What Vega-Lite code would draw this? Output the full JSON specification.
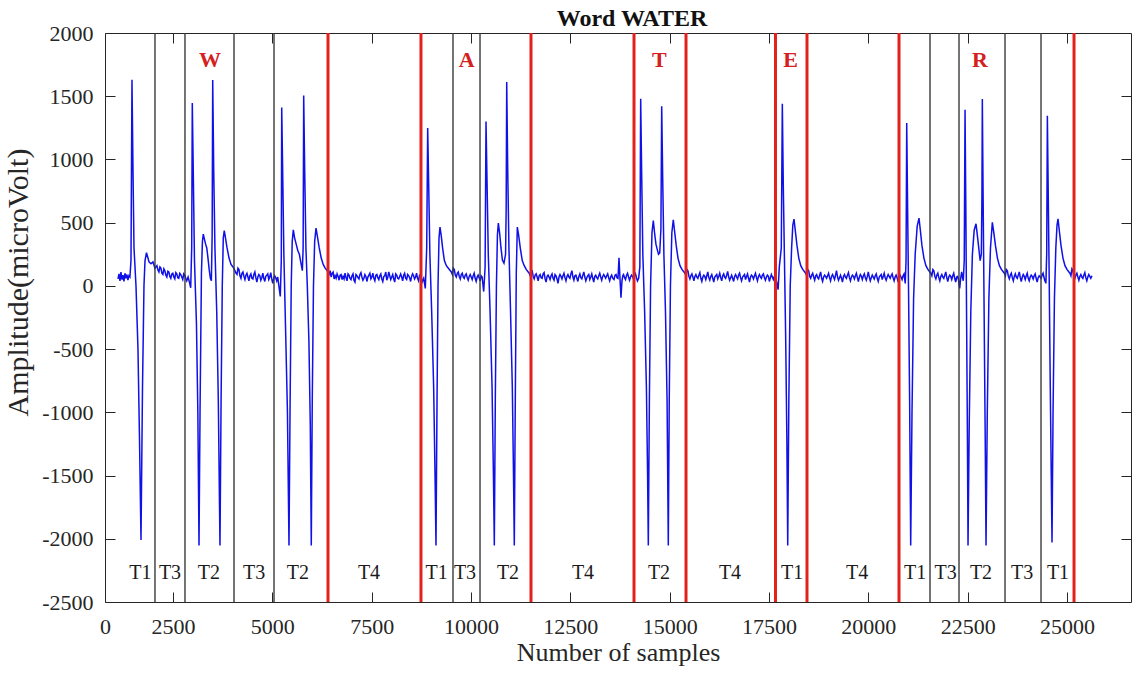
{
"$schema": "https://vega.github.io/schema/vega-lite/v6.json",
"autosize": {"type": "none"},
"padding": {"left": 105, "top": 33, "right": 1, "bottom": 71},
"width": 1026,
"height": 569,
"background": "white",
"config": {"view": {"stroke": null}},
"title": {"text": "Word WATER", "font": "Liberation Serif", "fontSize": 24, "fontWeight": "bold", "color": "#111111", "offset": 10, "baseline": "alphabetic", "dx": 14, "dy": 38},
"datasets": {
"signal": [
{"sample":1115,"uV":55},{"sample":1140,"uV":95},{"sample":1165,"uV":40},{"sample":1190,"uV":110},{"sample":1215,"uV":50},{"sample":1240,"uV":85},{"sample":1265,"uV":35},{"sample":1290,"uV":100},{"sample":1315,"uV":60},{"sample":1340,"uV":90},{"sample":1365,"uV":45},{"sample":1390,"uV":80},{"sample":1415,"uV":70},{"sample":1442,"uV":200},{"sample":1467,"uV":1630},{"sample":1493,"uV":900},{"sample":1518,"uV":300},{"sample":1568,"uV":0},{"sample":1618,"uV":-500},{"sample":1656,"uV":-1200},{"sample":1694,"uV":-2010},{"sample":1732,"uV":-800},{"sample":1769,"uV":0},{"sample":1795,"uV":200},{"sample":1832,"uV":262},{"sample":1870,"uV":220},{"sample":1895,"uV":190},{"sample":1945,"uV":175},{"sample":1995,"uV":190},{"sample":2045,"uV":140},
{"sample":2070,"uV":150},{"sample":2095,"uV":160},{"sample":2120,"uV":125},{"sample":2145,"uV":110},{"sample":2170,"uV":150},{"sample":2195,"uV":140},{"sample":2220,"uV":100},{"sample":2245,"uV":90},{"sample":2270,"uV":135},{"sample":2295,"uV":120},{"sample":2320,"uV":85},{"sample":2345,"uV":70},{"sample":2370,"uV":115},{"sample":2395,"uV":110},{"sample":2420,"uV":75},{"sample":2445,"uV":60},{"sample":2470,"uV":95},{"sample":2495,"uV":100},{"sample":2520,"uV":70},{"sample":2545,"uV":55},{"sample":2570,"uV":105},{"sample":2595,"uV":95},{"sample":2620,"uV":65},{"sample":2645,"uV":60},{"sample":2670,"uV":100},{"sample":2695,"uV":90},{"sample":2720,"uV":70},{"sample":2745,"uV":50},{"sample":2770,"uV":95},{"sample":2795,"uV":85},{"sample":2820,"uV":60},{"sample":2845,"uV":40},{"sample":2880,"uV":70},{"sample":2920,"uV":20},{"sample":2945,"uV":-15},{"sample":2970,"uV":300},
{"sample":2985,"uV":1446},{"sample":3010,"uV":900},{"sample":3040,"uV":200},{"sample":3090,"uV":-300},{"sample":3125,"uV":-1000},{"sample":3154,"uV":-2054},{"sample":3180,"uV":-1000},{"sample":3215,"uV":100},{"sample":3240,"uV":350},{"sample":3262,"uV":410},{"sample":3290,"uV":370},{"sample":3320,"uV":330},{"sample":3350,"uV":300},{"sample":3380,"uV":220},{"sample":3410,"uV":130},{"sample":3440,"uV":60},{"sample":3465,"uV":40},{"sample":3485,"uV":400},{"sample":3499,"uV":1628},{"sample":3525,"uV":900},{"sample":3555,"uV":300},{"sample":3600,"uV":-200},{"sample":3640,"uV":-900},{"sample":3682,"uV":-2054},{"sample":3710,"uV":-900},{"sample":3740,"uV":0},{"sample":3765,"uV":380},{"sample":3790,"uV":438},{"sample":3820,"uV":380},{"sample":3860,"uV":300},{"sample":3910,"uV":220},{"sample":3960,"uV":170},{"sample":4010,"uV":150},{"sample":4060,"uV":120},
{"sample":4085,"uV":100},{"sample":4110,"uV":90},{"sample":4135,"uV":140},{"sample":4160,"uV":130},{"sample":4185,"uV":80},{"sample":4210,"uV":60},{"sample":4235,"uV":100},{"sample":4260,"uV":110},{"sample":4285,"uV":75},{"sample":4310,"uV":50},{"sample":4335,"uV":85},{"sample":4360,"uV":100},{"sample":4385,"uV":70},{"sample":4410,"uV":40},{"sample":4435,"uV":80},{"sample":4460,"uV":95},{"sample":4485,"uV":60},{"sample":4510,"uV":55},{"sample":4535,"uV":90},{"sample":4560,"uV":110},{"sample":4585,"uV":65},{"sample":4610,"uV":30},{"sample":4635,"uV":70},{"sample":4660,"uV":90},{"sample":4685,"uV":80},{"sample":4710,"uV":45},{"sample":4735,"uV":65},{"sample":4760,"uV":100},{"sample":4785,"uV":60},{"sample":4810,"uV":35},{"sample":4835,"uV":75},{"sample":4860,"uV":85},{"sample":4885,"uV":95},{"sample":4910,"uV":50},{"sample":4935,"uV":70},{"sample":4960,"uV":105},{"sample":4985,"uV":55},{"sample":5010,"uV":20},{"sample":5035,"uV":60},{"sample":5060,"uV":80},{"sample":5085,"uV":65},{"sample":5110,"uV":40},{"sample":5135,"uV":70},{"sample":5160,"uV":10},{"sample":5200,"uV":-84},{"sample":5225,"uV":200},
{"sample":5236,"uV":1411},{"sample":5260,"uV":900},{"sample":5290,"uV":250},{"sample":5330,"uV":-300},{"sample":5380,"uV":-1000},{"sample":5419,"uV":-2054},{"sample":5445,"uV":-1000},{"sample":5475,"uV":0},{"sample":5500,"uV":350},{"sample":5528,"uV":444},{"sample":5560,"uV":380},{"sample":5600,"uV":330},{"sample":5640,"uV":280},{"sample":5680,"uV":250},{"sample":5720,"uV":180},{"sample":5755,"uV":120},{"sample":5775,"uV":300},{"sample":5789,"uV":1506},{"sample":5815,"uV":900},{"sample":5845,"uV":300},{"sample":5880,"uV":0},{"sample":5920,"uV":-430},{"sample":5955,"uV":-1100},{"sample":5980,"uV":-2054},{"sample":6005,"uV":-900},{"sample":6035,"uV":0},{"sample":6065,"uV":350},{"sample":6099,"uV":457},{"sample":6135,"uV":390},{"sample":6180,"uV":300},{"sample":6230,"uV":220},{"sample":6280,"uV":170},{"sample":6330,"uV":140},{"sample":6380,"uV":120},
{"sample":6405,"uV":115},{"sample":6430,"uV":95},{"sample":6455,"uV":120},{"sample":6480,"uV":70},{"sample":6505,"uV":100},{"sample":6530,"uV":110},{"sample":6555,"uV":55},{"sample":6580,"uV":80},{"sample":6605,"uV":60},{"sample":6630,"uV":95},{"sample":6655,"uV":75},{"sample":6680,"uV":45},{"sample":6705,"uV":85},{"sample":6730,"uV":90},{"sample":6755,"uV":50},{"sample":6780,"uV":75},{"sample":6805,"uV":55},{"sample":6830,"uV":100},{"sample":6855,"uV":65},{"sample":6880,"uV":40},{"sample":6905,"uV":95},{"sample":6930,"uV":85},{"sample":6955,"uV":60},{"sample":6980,"uV":50},{"sample":7005,"uV":80},{"sample":7030,"uV":95},{"sample":7055,"uV":45},{"sample":7080,"uV":30},{"sample":7105,"uV":90},{"sample":7130,"uV":80},{"sample":7155,"uV":65},{"sample":7180,"uV":55},{"sample":7205,"uV":90},{"sample":7230,"uV":105},{"sample":7255,"uV":70},{"sample":7280,"uV":45},{"sample":7305,"uV":60},{"sample":7330,"uV":90},{"sample":7355,"uV":75},{"sample":7380,"uV":35},{"sample":7405,"uV":70},{"sample":7430,"uV":85},{"sample":7455,"uV":100},{"sample":7480,"uV":55},{"sample":7505,"uV":70},{"sample":7530,"uV":100},{"sample":7555,"uV":60},{"sample":7580,"uV":40},{"sample":7605,"uV":85},{"sample":7630,"uV":90},{"sample":7655,"uV":65},{"sample":7680,"uV":50},{"sample":7705,"uV":80},{"sample":7730,"uV":95},{"sample":7755,"uV":55},{"sample":7780,"uV":35},{"sample":7805,"uV":75},{"sample":7830,"uV":80},{"sample":7855,"uV":110},{"sample":7880,"uV":45},{"sample":7905,"uV":65},{"sample":7930,"uV":110},{"sample":7955,"uV":80},{"sample":7980,"uV":50},{"sample":8005,"uV":70},{"sample":8030,"uV":90},{"sample":8055,"uV":55},{"sample":8080,"uV":30},{"sample":8105,"uV":95},{"sample":8130,"uV":85},{"sample":8155,"uV":60},{"sample":8180,"uV":55},{"sample":8205,"uV":75},{"sample":8230,"uV":95},{"sample":8255,"uV":70},{"sample":8280,"uV":40},{"sample":8305,"uV":85},{"sample":8330,"uV":100},{"sample":8355,"uV":60},{"sample":8380,"uV":50},{"sample":8405,"uV":90},{"sample":8430,"uV":80},{"sample":8455,"uV":65},{"sample":8480,"uV":35},{"sample":8505,"uV":75},{"sample":8530,"uV":95},{"sample":8555,"uV":80},{"sample":8580,"uV":55},{"sample":8605,"uV":70},{"sample":8630,"uV":100},{"sample":8655,"uV":60},{"sample":8680,"uV":40},{"sample":8705,"uV":85},{"sample":8730,"uV":90},{"sample":8770,"uV":30},{"sample":8810,"uV":60},{"sample":8850,"uV":-20},{"sample":8885,"uV":300},
{"sample":8910,"uV":1248},{"sample":8935,"uV":800},{"sample":8965,"uV":250},{"sample":9010,"uV":-200},{"sample":9060,"uV":-800},{"sample":9095,"uV":-1500},{"sample":9119,"uV":-2054},{"sample":9145,"uV":-900},{"sample":9170,"uV":0},{"sample":9195,"uV":380},{"sample":9220,"uV":465},{"sample":9250,"uV":400},{"sample":9285,"uV":300},{"sample":9330,"uV":200},{"sample":9380,"uV":160},{"sample":9430,"uV":140},{"sample":9480,"uV":120},
{"sample":9505,"uV":110},{"sample":9530,"uV":90},{"sample":9555,"uV":140},{"sample":9580,"uV":130},{"sample":9605,"uV":85},{"sample":9630,"uV":70},{"sample":9655,"uV":100},{"sample":9680,"uV":110},{"sample":9705,"uV":75},{"sample":9730,"uV":55},{"sample":9755,"uV":90},{"sample":9780,"uV":100},{"sample":9805,"uV":70},{"sample":9830,"uV":60},{"sample":9855,"uV":85},{"sample":9880,"uV":95},{"sample":9905,"uV":65},{"sample":9930,"uV":45},{"sample":9955,"uV":75},{"sample":9980,"uV":90},{"sample":10005,"uV":70},{"sample":10030,"uV":50},{"sample":10055,"uV":80},{"sample":10080,"uV":100},{"sample":10105,"uV":60},{"sample":10130,"uV":35},{"sample":10155,"uV":70},{"sample":10180,"uV":85},{"sample":10205,"uV":65},{"sample":10230,"uV":40},{"sample":10255,"uV":80},{"sample":10280,"uV":70},{"sample":10320,"uV":-45},{"sample":10355,"uV":150},
{"sample":10378,"uV":1300},{"sample":10405,"uV":800},{"sample":10435,"uV":250},{"sample":10480,"uV":-200},{"sample":10530,"uV":-800},{"sample":10565,"uV":-1500},{"sample":10587,"uV":-2054},{"sample":10612,"uV":-900},{"sample":10640,"uV":0},{"sample":10665,"uV":400},{"sample":10688,"uV":497},{"sample":10720,"uV":420},{"sample":10755,"uV":300},{"sample":10790,"uV":205},{"sample":10830,"uV":180},{"sample":10870,"uV":250},{"sample":10885,"uV":600},{"sample":10899,"uV":1612},{"sample":10925,"uV":900},{"sample":10955,"uV":300},{"sample":10995,"uV":-200},{"sample":11040,"uV":-800},{"sample":11070,"uV":-1500},{"sample":11090,"uV":-2054},{"sample":11115,"uV":-900},{"sample":11140,"uV":100},{"sample":11166,"uV":465},{"sample":11200,"uV":400},{"sample":11240,"uV":300},{"sample":11290,"uV":200},{"sample":11340,"uV":160},{"sample":11390,"uV":130},{"sample":11440,"uV":110},
{"sample":11465,"uV":100},{"sample":11490,"uV":80},{"sample":11515,"uV":130},{"sample":11540,"uV":120},{"sample":11565,"uV":75},{"sample":11590,"uV":55},{"sample":11615,"uV":85},{"sample":11640,"uV":95},{"sample":11665,"uV":70},{"sample":11690,"uV":40},{"sample":11715,"uV":80},{"sample":11740,"uV":90},{"sample":11765,"uV":65},{"sample":11790,"uV":60},{"sample":11815,"uV":95},{"sample":11840,"uV":105},{"sample":11865,"uV":55},{"sample":11890,"uV":30},{"sample":11915,"uV":75},{"sample":11940,"uV":85},{"sample":11965,"uV":70},{"sample":11990,"uV":50},{"sample":12015,"uV":80},{"sample":12040,"uV":95},{"sample":12065,"uV":60},{"sample":12090,"uV":45},{"sample":12115,"uV":90},{"sample":12140,"uV":80},{"sample":12165,"uV":55},{"sample":12190,"uV":20},{"sample":12215,"uV":70},{"sample":12240,"uV":90},{"sample":12265,"uV":75},{"sample":12290,"uV":55},{"sample":12315,"uV":80},{"sample":12340,"uV":100},{"sample":12365,"uV":65},{"sample":12390,"uV":40},{"sample":12415,"uV":75},{"sample":12440,"uV":90},{"sample":12465,"uV":70},{"sample":12490,"uV":60},{"sample":12515,"uV":95},{"sample":12540,"uV":120},{"sample":12565,"uV":70},{"sample":12590,"uV":45},{"sample":12615,"uV":80},{"sample":12640,"uV":85},{"sample":12665,"uV":60},{"sample":12690,"uV":35},{"sample":12715,"uV":75},{"sample":12740,"uV":95},{"sample":12765,"uV":65},{"sample":12790,"uV":55},{"sample":12815,"uV":85},{"sample":12840,"uV":110},{"sample":12865,"uV":70},{"sample":12890,"uV":40},{"sample":12915,"uV":65},{"sample":12940,"uV":80},{"sample":12965,"uV":90},{"sample":12990,"uV":50},{"sample":13015,"uV":70},{"sample":13040,"uV":95},{"sample":13065,"uV":60},{"sample":13090,"uV":30},{"sample":13115,"uV":75},{"sample":13140,"uV":85},{"sample":13165,"uV":65},{"sample":13190,"uV":55},{"sample":13215,"uV":80},{"sample":13240,"uV":100},{"sample":13265,"uV":70},{"sample":13290,"uV":45},{"sample":13315,"uV":75},{"sample":13340,"uV":90},{"sample":13365,"uV":75},{"sample":13390,"uV":60},{"sample":13415,"uV":80},{"sample":13440,"uV":95},{"sample":13465,"uV":65},{"sample":13490,"uV":40},{"sample":13515,"uV":70},{"sample":13540,"uV":85},{"sample":13570,"uV":60},{"sample":13600,"uV":50},{"sample":13625,"uV":85},{"sample":13650,"uV":90},{"sample":13675,"uV":65},{"sample":13700,"uV":60},{"sample":13725,"uV":222},{"sample":13750,"uV":60},{"sample":13775,"uV":-94},{"sample":13800,"uV":40},{"sample":13820,"uV":80},{"sample":13840,"uV":90},{"sample":13865,"uV":65},{"sample":13890,"uV":50},{"sample":13915,"uV":85},{"sample":13940,"uV":100},{"sample":13965,"uV":70},{"sample":13990,"uV":45},{"sample":14015,"uV":70},{"sample":14040,"uV":85},{"sample":14065,"uV":75},{"sample":14090,"uV":55},{"sample":14115,"uV":80},{"sample":14140,"uV":95},{"sample":14165,"uV":65},{"sample":14190,"uV":40},{"sample":14220,"uV":60},{"sample":14250,"uV":150},
{"sample":14271,"uV":1480},{"sample":14295,"uV":900},{"sample":14325,"uV":250},{"sample":14370,"uV":-200},{"sample":14415,"uV":-800},{"sample":14445,"uV":-1500},{"sample":14463,"uV":-2054},{"sample":14490,"uV":-900},{"sample":14520,"uV":0},{"sample":14555,"uV":420},{"sample":14589,"uV":517},{"sample":14620,"uV":420},{"sample":14655,"uV":330},{"sample":14690,"uV":285},{"sample":14720,"uV":250},{"sample":14750,"uV":260},{"sample":14780,"uV":450},{"sample":14800,"uV":1420},{"sample":14825,"uV":850},{"sample":14855,"uV":250},{"sample":14895,"uV":-200},{"sample":14935,"uV":-900},{"sample":14966,"uV":-2054},{"sample":14990,"uV":-900},{"sample":15020,"uV":0},{"sample":15055,"uV":420},{"sample":15092,"uV":523},{"sample":15125,"uV":430},{"sample":15165,"uV":320},{"sample":15210,"uV":220},{"sample":15260,"uV":160},{"sample":15310,"uV":130},{"sample":15360,"uV":110},
{"sample":15385,"uV":100},{"sample":15410,"uV":80},{"sample":15435,"uV":130},{"sample":15460,"uV":120},{"sample":15485,"uV":75},{"sample":15510,"uV":55},{"sample":15535,"uV":80},{"sample":15560,"uV":95},{"sample":15585,"uV":70},{"sample":15610,"uV":40},{"sample":15635,"uV":75},{"sample":15660,"uV":90},{"sample":15685,"uV":70},{"sample":15710,"uV":60},{"sample":15735,"uV":85},{"sample":15760,"uV":105},{"sample":15785,"uV":60},{"sample":15810,"uV":35},{"sample":15835,"uV":70},{"sample":15860,"uV":85},{"sample":15885,"uV":75},{"sample":15910,"uV":50},{"sample":15935,"uV":80},{"sample":15960,"uV":110},{"sample":15985,"uV":65},{"sample":16010,"uV":45},{"sample":16035,"uV":75},{"sample":16060,"uV":90},{"sample":16085,"uV":60},{"sample":16110,"uV":30},{"sample":16135,"uV":70},{"sample":16160,"uV":80},{"sample":16185,"uV":90},{"sample":16210,"uV":55},{"sample":16235,"uV":75},{"sample":16260,"uV":100},{"sample":16285,"uV":65},{"sample":16310,"uV":40},{"sample":16335,"uV":80},{"sample":16360,"uV":95},{"sample":16385,"uV":70},{"sample":16410,"uV":60},{"sample":16435,"uV":85},{"sample":16460,"uV":115},{"sample":16485,"uV":70},{"sample":16510,"uV":45},{"sample":16535,"uV":65},{"sample":16560,"uV":85},{"sample":16585,"uV":60},{"sample":16610,"uV":35},{"sample":16635,"uV":75},{"sample":16660,"uV":90},{"sample":16685,"uV":70},{"sample":16710,"uV":55},{"sample":16735,"uV":85},{"sample":16760,"uV":100},{"sample":16785,"uV":65},{"sample":16810,"uV":40},{"sample":16835,"uV":70},{"sample":16860,"uV":80},{"sample":16885,"uV":90},{"sample":16910,"uV":50},{"sample":16935,"uV":75},{"sample":16960,"uV":95},{"sample":16985,"uV":60},{"sample":17010,"uV":30},{"sample":17035,"uV":70},{"sample":17060,"uV":85},{"sample":17085,"uV":75},{"sample":17110,"uV":55},{"sample":17135,"uV":80},{"sample":17160,"uV":100},{"sample":17185,"uV":65},{"sample":17210,"uV":40},{"sample":17235,"uV":75},{"sample":17260,"uV":90},{"sample":17285,"uV":70},{"sample":17310,"uV":60},{"sample":17335,"uV":85},{"sample":17360,"uV":95},{"sample":17385,"uV":65},{"sample":17410,"uV":45},{"sample":17435,"uV":70},{"sample":17460,"uV":85},{"sample":17485,"uV":75},{"sample":17510,"uV":35},{"sample":17535,"uV":65},{"sample":17560,"uV":90},{"sample":17585,"uV":70},{"sample":17610,"uV":50},{"sample":17635,"uV":75},{"sample":17660,"uV":80},{"sample":17700,"uV":20},{"sample":17730,"uV":-30},{"sample":17760,"uV":150},{"sample":17810,"uV":300},
{"sample":17836,"uV":1441},{"sample":17860,"uV":800},{"sample":17890,"uV":200},{"sample":17920,"uV":-400},{"sample":17950,"uV":-1200},{"sample":17972,"uV":-2054},{"sample":18000,"uV":-900},{"sample":18035,"uV":0},{"sample":18070,"uV":300},{"sample":18100,"uV":480},{"sample":18130,"uV":528},{"sample":18165,"uV":430},{"sample":18205,"uV":320},{"sample":18250,"uV":220},{"sample":18300,"uV":160},{"sample":18350,"uV":130},{"sample":18400,"uV":110},
{"sample":18425,"uV":100},{"sample":18450,"uV":80},{"sample":18475,"uV":130},{"sample":18500,"uV":120},{"sample":18525,"uV":75},{"sample":18550,"uV":60},{"sample":18575,"uV":85},{"sample":18600,"uV":100},{"sample":18625,"uV":70},{"sample":18650,"uV":45},{"sample":18675,"uV":80},{"sample":18700,"uV":90},{"sample":18725,"uV":65},{"sample":18750,"uV":55},{"sample":18775,"uV":85},{"sample":18800,"uV":110},{"sample":18825,"uV":60},{"sample":18850,"uV":35},{"sample":18875,"uV":70},{"sample":18900,"uV":85},{"sample":18925,"uV":75},{"sample":18950,"uV":60},{"sample":18975,"uV":80},{"sample":19000,"uV":100},{"sample":19025,"uV":65},{"sample":19050,"uV":40},{"sample":19075,"uV":75},{"sample":19100,"uV":90},{"sample":19125,"uV":70},{"sample":19150,"uV":50},{"sample":19175,"uV":85},{"sample":19200,"uV":120},{"sample":19225,"uV":70},{"sample":19250,"uV":45},{"sample":19275,"uV":65},{"sample":19300,"uV":85},{"sample":19325,"uV":60},{"sample":19350,"uV":30},{"sample":19375,"uV":75},{"sample":19400,"uV":90},{"sample":19425,"uV":70},{"sample":19450,"uV":60},{"sample":19475,"uV":85},{"sample":19500,"uV":105},{"sample":19525,"uV":65},{"sample":19550,"uV":40},{"sample":19575,"uV":70},{"sample":19600,"uV":85},{"sample":19625,"uV":75},{"sample":19650,"uV":55},{"sample":19675,"uV":80},{"sample":19700,"uV":100},{"sample":19725,"uV":65},{"sample":19750,"uV":35},{"sample":19775,"uV":70},{"sample":19800,"uV":90},{"sample":19825,"uV":75},{"sample":19850,"uV":50},{"sample":19875,"uV":80},{"sample":19900,"uV":95},{"sample":19925,"uV":65},{"sample":19950,"uV":45},{"sample":19975,"uV":75},{"sample":20000,"uV":110},{"sample":20025,"uV":70},{"sample":20050,"uV":40},{"sample":20075,"uV":65},{"sample":20100,"uV":85},{"sample":20125,"uV":70},{"sample":20150,"uV":55},{"sample":20175,"uV":80},{"sample":20200,"uV":95},{"sample":20225,"uV":60},{"sample":20250,"uV":35},{"sample":20275,"uV":70},{"sample":20300,"uV":80},{"sample":20325,"uV":90},{"sample":20350,"uV":50},{"sample":20375,"uV":75},{"sample":20400,"uV":100},{"sample":20425,"uV":65},{"sample":20450,"uV":45},{"sample":20475,"uV":70},{"sample":20500,"uV":90},{"sample":20525,"uV":75},{"sample":20550,"uV":60},{"sample":20575,"uV":80},{"sample":20600,"uV":95},{"sample":20625,"uV":65},{"sample":20650,"uV":40},{"sample":20675,"uV":70},{"sample":20700,"uV":85},{"sample":20725,"uV":65},{"sample":20750,"uV":30},{"sample":20775,"uV":75},{"sample":20800,"uV":85},{"sample":20825,"uV":70},{"sample":20850,"uV":50},{"sample":20875,"uV":80},{"sample":20900,"uV":95},{"sample":20930,"uV":20},{"sample":20950,"uV":200},
{"sample":20967,"uV":1288},{"sample":20990,"uV":600},{"sample":21015,"uV":-100},{"sample":21040,"uV":-900},{"sample":21067,"uV":-2054},{"sample":21100,"uV":-1000},{"sample":21140,"uV":-100},{"sample":21180,"uV":250},{"sample":21230,"uV":470},{"sample":21276,"uV":536},{"sample":21310,"uV":440},{"sample":21350,"uV":320},{"sample":21400,"uV":220},{"sample":21450,"uV":160},{"sample":21500,"uV":130},{"sample":21550,"uV":110},
{"sample":21575,"uV":100},{"sample":21600,"uV":80},{"sample":21625,"uV":130},{"sample":21650,"uV":120},{"sample":21675,"uV":75},{"sample":21700,"uV":55},{"sample":21725,"uV":85},{"sample":21750,"uV":100},{"sample":21775,"uV":65},{"sample":21800,"uV":40},{"sample":21825,"uV":75},{"sample":21850,"uV":90},{"sample":21875,"uV":70},{"sample":21900,"uV":60},{"sample":21925,"uV":85},{"sample":21950,"uV":110},{"sample":21975,"uV":65},{"sample":22000,"uV":35},{"sample":22025,"uV":70},{"sample":22050,"uV":85},{"sample":22075,"uV":75},{"sample":22100,"uV":50},{"sample":22125,"uV":80},{"sample":22150,"uV":100},{"sample":22175,"uV":60},{"sample":22200,"uV":30},{"sample":22225,"uV":70},{"sample":22250,"uV":75},{"sample":22275,"uV":40},{"sample":22300,"uV":-20},{"sample":22325,"uV":60},{"sample":22350,"uV":110},{"sample":22370,"uV":70},{"sample":22390,"uV":40},{"sample":22415,"uV":200},
{"sample":22435,"uV":1393},{"sample":22455,"uV":600},{"sample":22475,"uV":-300},{"sample":22495,"uV":-1200},{"sample":22510,"uV":-2054},{"sample":22540,"uV":-1100},{"sample":22580,"uV":-200},{"sample":22620,"uV":250},{"sample":22665,"uV":440},{"sample":22711,"uV":491},{"sample":22745,"uV":400},{"sample":22780,"uV":300},{"sample":22815,"uV":200},{"sample":22845,"uV":250},{"sample":22860,"uV":700},{"sample":22870,"uV":1478},{"sample":22890,"uV":700},{"sample":22915,"uV":-200},{"sample":22940,"uV":-1100},{"sample":22963,"uV":-2054},{"sample":22995,"uV":-1000},{"sample":23035,"uV":-100},{"sample":23075,"uV":300},{"sample":23122,"uV":502},{"sample":23160,"uV":420},{"sample":23200,"uV":320},{"sample":23250,"uV":220},{"sample":23300,"uV":160},{"sample":23350,"uV":130},{"sample":23400,"uV":110},
{"sample":23425,"uV":100},{"sample":23450,"uV":80},{"sample":23475,"uV":130},{"sample":23500,"uV":120},{"sample":23525,"uV":75},{"sample":23550,"uV":55},{"sample":23575,"uV":85},{"sample":23600,"uV":100},{"sample":23625,"uV":65},{"sample":23650,"uV":40},{"sample":23675,"uV":75},{"sample":23700,"uV":95},{"sample":23725,"uV":70},{"sample":23750,"uV":60},{"sample":23775,"uV":85},{"sample":23800,"uV":110},{"sample":23825,"uV":65},{"sample":23850,"uV":35},{"sample":23875,"uV":70},{"sample":23900,"uV":90},{"sample":23925,"uV":75},{"sample":23950,"uV":50},{"sample":23975,"uV":80},{"sample":24000,"uV":100},{"sample":24025,"uV":60},{"sample":24050,"uV":40},{"sample":24075,"uV":70},{"sample":24100,"uV":85},{"sample":24125,"uV":75},{"sample":24150,"uV":55},{"sample":24175,"uV":80},{"sample":24200,"uV":95},{"sample":24225,"uV":60},{"sample":24250,"uV":30},{"sample":24275,"uV":65},{"sample":24300,"uV":80},{"sample":24325,"uV":70},{"sample":24350,"uV":60},{"sample":24375,"uV":85},{"sample":24400,"uV":100},{"sample":24420,"uV":70},{"sample":24440,"uV":45},{"sample":24470,"uV":20},{"sample":24490,"uV":250},
{"sample":24507,"uV":1345},{"sample":24530,"uV":700},{"sample":24555,"uV":0},{"sample":24580,"uV":-800},{"sample":24605,"uV":-1500},{"sample":24624,"uV":-2030},{"sample":24650,"uV":-1000},{"sample":24685,"uV":-100},{"sample":24720,"uV":300},{"sample":24750,"uV":480},{"sample":24775,"uV":531},{"sample":24810,"uV":430},{"sample":24850,"uV":320},{"sample":24900,"uV":220},{"sample":24950,"uV":160},{"sample":25000,"uV":130},{"sample":25050,"uV":110},
{"sample":25075,"uV":100},{"sample":25100,"uV":80},{"sample":25125,"uV":135},{"sample":25150,"uV":120},{"sample":25175,"uV":75},{"sample":25200,"uV":60},{"sample":25225,"uV":85},{"sample":25250,"uV":100},{"sample":25275,"uV":70},{"sample":25300,"uV":45},{"sample":25325,"uV":75},{"sample":25350,"uV":90},{"sample":25375,"uV":70},{"sample":25400,"uV":60},{"sample":25425,"uV":85},{"sample":25450,"uV":105},{"sample":25475,"uV":65},{"sample":25500,"uV":40},{"sample":25525,"uV":70},{"sample":25550,"uV":90},{"sample":25575,"uV":75},{"sample":25600,"uV":60},{"sample":25630,"uV":80}
],
"markers": [
{"sample":2046,"kind":"segment"},{"sample":2801,"kind":"segment"},{"sample":4035,"kind":"segment"},{"sample":5042,"kind":"segment"},{"sample":6401,"kind":"letter"},{"sample":8741,"kind":"letter"},{"sample":9547,"kind":"segment"},{"sample":10227,"kind":"segment"},{"sample":11510,"kind":"letter"},{"sample":14103,"kind":"letter"},{"sample":15412,"kind":"letter"},{"sample":17664,"kind":"letter"},{"sample":18457,"kind":"letter"},{"sample":20773,"kind":"letter"},{"sample":21553,"kind":"segment"},{"sample":22283,"kind":"segment"},{"sample":23441,"kind":"segment"},{"sample":24347,"kind":"segment"},{"sample":25178,"kind":"letter"}
],
"segments": [
{"sample":1680,"uV":-2274,"label":"T1"},{"sample":2424,"uV":-2274,"label":"T3"},{"sample":3405,"uV":-2274,"label":"T2"},{"sample":4540,"uV":-2274,"label":"T3"},{"sample":5645,"uV":-2274,"label":"T2"},{"sample":7433,"uV":-2274,"label":"T4"},{"sample":9137,"uV":-2274,"label":"T1"},{"sample":9849,"uV":-2274,"label":"T3"},{"sample":10931,"uV":-2274,"label":"T2"},{"sample":12819,"uV":-2274,"label":"T4"},{"sample":14732,"uV":-2274,"label":"T2"},{"sample":16519,"uV":-2274,"label":"T4"},{"sample":18080,"uV":-2274,"label":"T1"},{"sample":19716,"uV":-2274,"label":"T4"},{"sample":21176,"uV":-2274,"label":"T1"},{"sample":21944,"uV":-2274,"label":"T3"},{"sample":22837,"uV":-2274,"label":"T2"},{"sample":23869,"uV":-2274,"label":"T3"},{"sample":24775,"uV":-2274,"label":"T1"}
],
"letters": [
{"sample":3431,"uV":1790,"letter":"W"},{"sample":9892,"uV":1790,"letter":"A"},{"sample":14740,"uV":1790,"letter":"T"},{"sample":18047,"uV":1790,"letter":"E"},{"sample":22812,"uV":1790,"letter":"R"}
]
},
"layer": [
{
"data": {"name": "signal"},
"mark": {"type": "line", "color": "#1010e8", "strokeWidth": 1.5, "interpolate": "linear"},
"encoding": {
"x": {"field": "sample", "type": "quantitative", "scale": {"domain": [788, 26612], "nice": false, "zero": false},
"axis": {"orient": "bottom", "values": [788,2500,5000,7500,10000,12500,15000,17500,20000,22500,25000], "labelExpr": "datum.value < 1000 ? '0' : '' + datum.value", "labelFlush": false, "labelOverlap": false, "grid": false, "tickSize": -10, "labelPadding": 24, "labelFont": "Liberation Serif", "labelFontSize": 22, "labelColor": "#262626", "domainColor": "#262626", "tickColor": "#262626", "title": "Number of samples", "titleFont": "Liberation Serif", "titleFontSize": 26, "titleFontWeight": "normal", "titleColor": "#262626", "titlePadding": 2}},
"y": {"field": "uV", "type": "quantitative", "scale": {"domain": [-2500, 2000], "nice": false, "zero": false},
"axis": {"orient": "left", "values": [-2500,-2000,-1500,-1000,-500,0,500,1000,1500,2000], "labelExpr": "'' + datum.value", "labelFlush": false, "labelOverlap": false, "grid": false, "tickSize": -10, "labelPadding": 22, "labelFont": "Liberation Serif", "labelFontSize": 22, "labelColor": "#262626", "domainColor": "#262626", "tickColor": "#262626", "title": "Amplitude(microVolt)", "titleFont": "Liberation Serif", "titleFontSize": 30, "titleFontWeight": "normal", "titleColor": "#262626", "titlePadding": 8, "titleY": 249}}
}
},
{
"data": {"name": "markers"},
"mark": {"type": "rule"},
"encoding": {
"x": {"field": "sample", "type": "quantitative", "axis": null},
"color": {"field": "kind", "type": "nominal", "scale": {"domain": ["letter", "segment"], "range": ["#e3211c", "#3a3a3a"]}, "legend": null},
"size": {"field": "kind", "type": "ordinal", "scale": {"domain": ["letter", "segment"], "range": [3, 1.4]}, "legend": null}
}
},
{
"data": {"name": "segments"},
"mark": {"type": "text", "font": "Liberation Serif", "fontSize": 20, "color": "#1a1a1a", "baseline": "middle", "align": "center"},
"encoding": {
"x": {"field": "sample", "type": "quantitative", "axis": {"orient": "top", "values": [2500,5000,7500,10000,12500,15000,17500,20000,22500,25000], "labels": false, "grid": false, "tickSize": -10, "title": null, "domainColor": "#262626", "tickColor": "#262626"}},
"y": {"field": "uV", "type": "quantitative", "axis": {"orient": "right", "values": [-2000,-1500,-1000,-500,0,500,1000,1500], "labels": false, "grid": false, "tickSize": -10, "title": null, "domainColor": "#262626", "tickColor": "#262626"}},
"text": {"field": "label"}
}
},
{
"data": {"name": "letters"},
"mark": {"type": "text", "font": "Liberation Serif", "fontSize": 22, "fontWeight": "bold", "color": "#d42020", "baseline": "middle", "align": "center"},
"encoding": {
"x": {"field": "sample", "type": "quantitative", "axis": null},
"y": {"field": "uV", "type": "quantitative", "axis": null},
"text": {"field": "letter"}
}
}
],
"resolve": {"axis": {"x": "independent", "y": "independent"}}
}
